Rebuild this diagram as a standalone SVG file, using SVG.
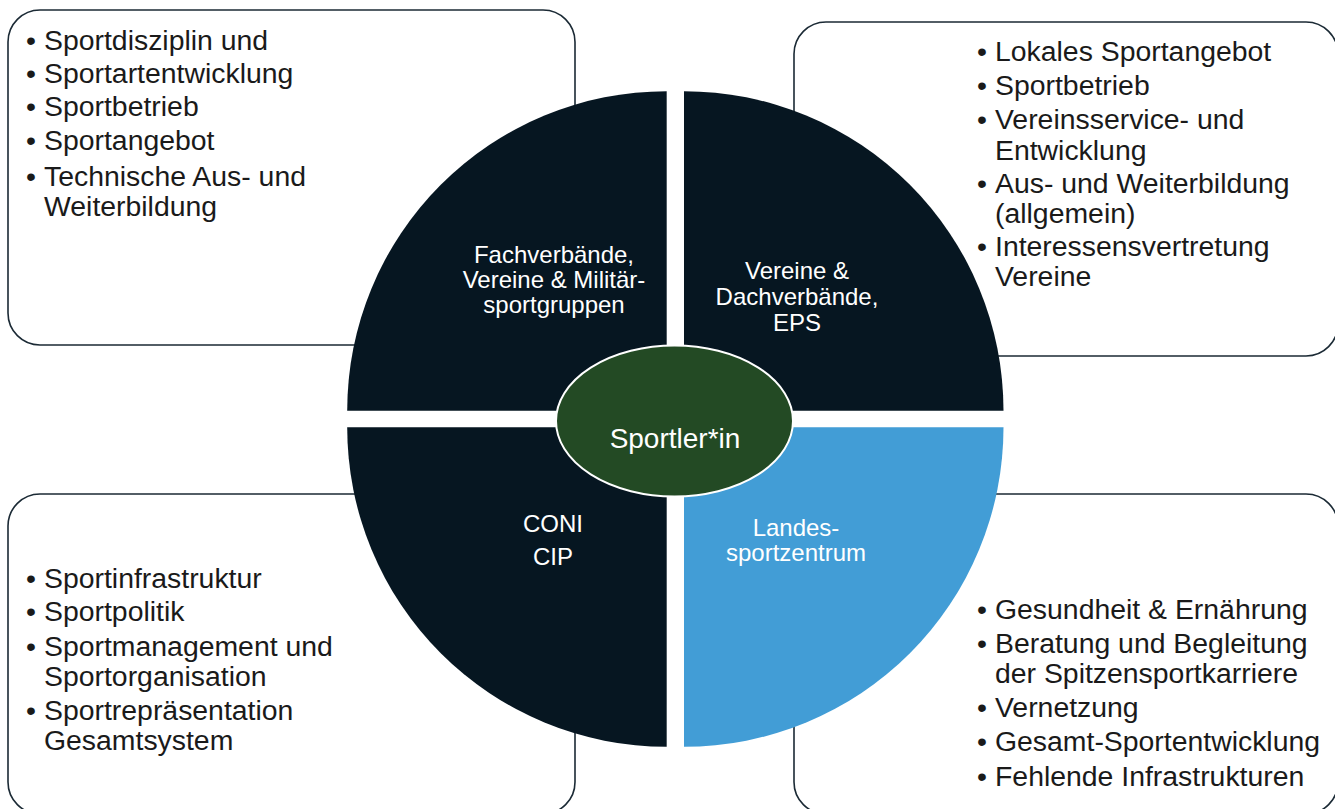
<svg xmlns="http://www.w3.org/2000/svg" width="1335" height="809" viewBox="0 0 1335 809">
<style>
.box{fill:#ffffff;stroke:#1b2a35;stroke-width:1.6}
.q{fill:#061621}
.qb{fill:#429dd6}
.t{font-family:"Liberation Sans",Arial,sans-serif;font-size:28.4px;fill:#1a1a1a}
.l{font-family:"Liberation Sans",Arial,sans-serif;font-size:24px;fill:#ffffff;text-anchor:middle}
.c{font-family:"Liberation Sans",Arial,sans-serif;font-size:28px;fill:#ffffff;text-anchor:middle}
</style>
<rect width="1335" height="809" fill="#ffffff"/>
<g id="box-tl">
<rect class="box" x="8" y="10" width="567" height="335" rx="32"/>
<text class="t"><tspan x="26" y="50">•</tspan><tspan x="26" y="83">•</tspan><tspan x="26" y="116">•</tspan><tspan x="26" y="150">•</tspan><tspan x="26" y="186">•</tspan></text>
<text class="t"><tspan x="44" y="50">Sportdisziplin und</tspan><tspan x="44" y="83">Sportartentwicklung</tspan><tspan x="44" y="116">Sportbetrieb</tspan><tspan x="44" y="150">Sportangebot</tspan><tspan x="44" y="186">Technische Aus- und</tspan><tspan x="44" y="216">Weiterbildung</tspan></text>
</g>
<g id="box-tr">
<rect class="box" x="794" y="22" width="544" height="334" rx="32"/>
<text class="t"><tspan x="977" y="61">•</tspan><tspan x="977" y="95">•</tspan><tspan x="977" y="129">•</tspan><tspan x="977" y="193">•</tspan><tspan x="977" y="256">•</tspan></text>
<text class="t"><tspan x="995" y="61">Lokales Sportangebot</tspan><tspan x="995" y="95">Sportbetrieb</tspan><tspan x="995" y="129">Vereinsservice- und</tspan><tspan x="995" y="160">Entwicklung</tspan><tspan x="995" y="193">Aus- und Weiterbildung</tspan><tspan x="995" y="223">(allgemein)</tspan><tspan x="995" y="256">Interessensvertretung</tspan><tspan x="995" y="286">Vereine</tspan></text>
</g>
<g id="box-bl">
<rect class="box" x="8" y="494" width="567" height="320" rx="32"/>
<text class="t"><tspan x="26" y="588">•</tspan><tspan x="26" y="621">•</tspan><tspan x="26" y="656">•</tspan><tspan x="26" y="720">•</tspan></text>
<text class="t"><tspan x="44" y="588">Sportinfrastruktur</tspan><tspan x="44" y="621">Sportpolitik</tspan><tspan x="44" y="656">Sportmanagement und</tspan><tspan x="44" y="686">Sportorganisation</tspan><tspan x="44" y="720">Sportrepräsentation</tspan><tspan x="44" y="750">Gesamtsystem</tspan></text>
</g>
<g id="box-br">
<rect class="box" x="794" y="494" width="544" height="320" rx="32"/>
<text class="t"><tspan x="977" y="619">•</tspan><tspan x="977" y="653">•</tspan><tspan x="977" y="717">•</tspan><tspan x="977" y="751">•</tspan><tspan x="977" y="786">•</tspan></text>
<text class="t"><tspan x="995" y="619">Gesundheit &amp; Ernährung</tspan><tspan x="995" y="653">Beratung und Begleitung</tspan><tspan x="995" y="683">der Spitzensportkarriere</tspan><tspan x="995" y="717">Vernetzung</tspan><tspan x="995" y="751">Gesamt-Sportentwicklung</tspan><tspan x="995" y="786">Fehlende Infrastrukturen</tspan></text>
</g>
<g id="q-tl">
<path class="q" d="M666.7,410.7 L347.2,410.7 A319.5,319.5 0 0 1 666.7,91.2 Z"/>
<text class="l"><tspan x="554" y="263">Fachverbände,</tspan><tspan x="554" y="288">Vereine &amp; Militär-</tspan><tspan x="554" y="313">sportgruppen</tspan></text>
</g>
<g id="q-tr">
<path class="q" d="M684,410.7 L684,91.2 A319.5,319.5 0 0 1 1003.5,410.7 Z"/>
<text class="l"><tspan x="797" y="279">Vereine &amp;</tspan><tspan x="797" y="305">Dachverbände,</tspan><tspan x="797" y="331">EPS</tspan></text>
</g>
<g id="q-bl">
<path class="q" d="M666.7,427.3 L666.7,746.8 A319.5,319.5 0 0 1 347.2,427.3 Z"/>
<text class="l"><tspan x="553" y="532">CONI</tspan><tspan x="553" y="565">CIP</tspan></text>
</g>
<g id="q-br">
<path class="qb" d="M684,427.3 L1003.5,427.3 A319.5,319.5 0 0 1 684,746.8 Z"/>
<text class="l"><tspan x="796" y="536">Landes-</tspan><tspan x="796" y="561">sportzentrum</tspan></text>
</g>
<g id="center">
<ellipse cx="674.5" cy="421" rx="118.5" ry="75.5" fill="#234a24" stroke="#ffffff" stroke-width="2"/>
<text class="c" x="675" y="448">Sportler*in</text>
</g>
<g id="connectors"></g>
</svg>
